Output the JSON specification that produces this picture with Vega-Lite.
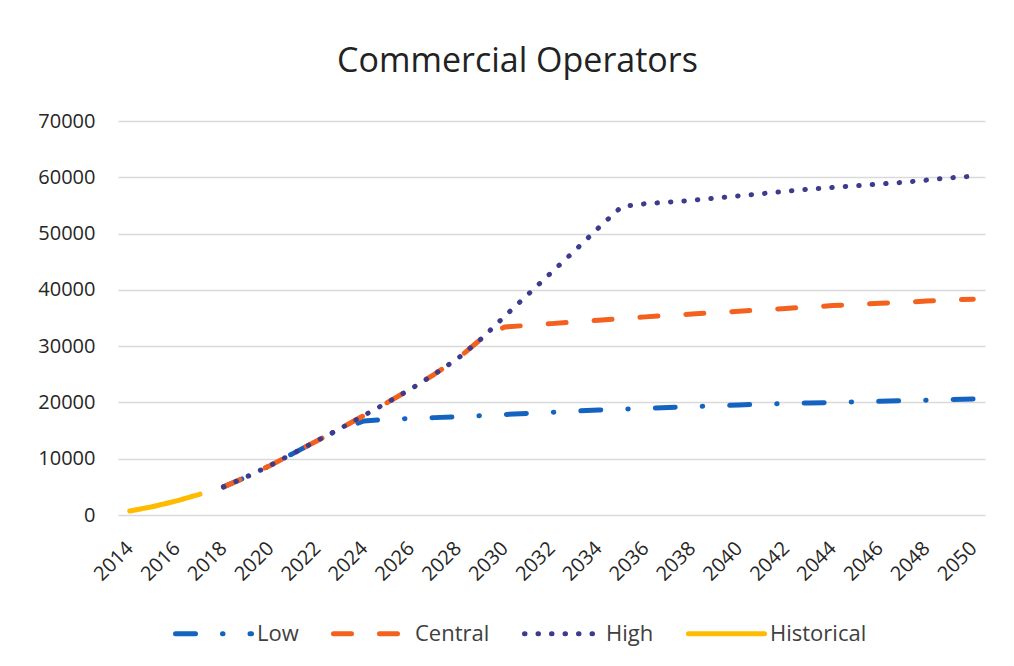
{
  "$schema": "https://vega.github.io/schema/vega-lite/v6.json",
  "width": 867,
  "height": 394,
  "autosize": {"type": "none"},
  "padding": {"left": 118, "top": 121, "right": 29, "bottom": 151},
  "background": "white",
  "config": {
    "font": "Open Sans",
    "view": {"stroke": null}
  },
  "title": {
    "text": "Commercial Operators",
    "fontSize": 34,
    "fontWeight": "normal",
    "color": "#222222",
    "anchor": "middle",
    "dx": -34,
    "baseline": "alphabetic",
    "offset": 5,
    "font": "Open Sans"
  },
  "data": {
    "values": [
      {"year": 2018, "series": "Low", "value": 5000},
      {"year": 2019, "series": "Low", "value": 6800},
      {"year": 2020, "series": "Low", "value": 8800},
      {"year": 2021, "series": "Low", "value": 11000},
      {"year": 2022, "series": "Low", "value": 13200},
      {"year": 2023, "series": "Low", "value": 15300},
      {"year": 2024, "series": "Low", "value": 16700},
      {"year": 2025, "series": "Low", "value": 17000},
      {"year": 2026, "series": "Low", "value": 17150},
      {"year": 2027, "series": "Low", "value": 17300},
      {"year": 2028, "series": "Low", "value": 17450},
      {"year": 2029, "series": "Low", "value": 17650},
      {"year": 2030, "series": "Low", "value": 17850},
      {"year": 2031, "series": "Low", "value": 18050},
      {"year": 2032, "series": "Low", "value": 18250},
      {"year": 2033, "series": "Low", "value": 18450},
      {"year": 2034, "series": "Low", "value": 18650},
      {"year": 2035, "series": "Low", "value": 18800},
      {"year": 2036, "series": "Low", "value": 18950},
      {"year": 2037, "series": "Low", "value": 19100},
      {"year": 2038, "series": "Low", "value": 19250},
      {"year": 2039, "series": "Low", "value": 19400},
      {"year": 2040, "series": "Low", "value": 19550},
      {"year": 2041, "series": "Low", "value": 19700},
      {"year": 2042, "series": "Low", "value": 19800},
      {"year": 2043, "series": "Low", "value": 19900},
      {"year": 2044, "series": "Low", "value": 20000},
      {"year": 2045, "series": "Low", "value": 20100},
      {"year": 2046, "series": "Low", "value": 20200},
      {"year": 2047, "series": "Low", "value": 20300},
      {"year": 2048, "series": "Low", "value": 20400},
      {"year": 2049, "series": "Low", "value": 20500},
      {"year": 2050, "series": "Low", "value": 20600},
      {"year": 2018, "series": "Central", "value": 5000},
      {"year": 2019, "series": "Central", "value": 6800},
      {"year": 2020, "series": "Central", "value": 8800},
      {"year": 2021, "series": "Central", "value": 11000},
      {"year": 2022, "series": "Central", "value": 13200},
      {"year": 2023, "series": "Central", "value": 15400},
      {"year": 2024, "series": "Central", "value": 17700},
      {"year": 2025, "series": "Central", "value": 20000},
      {"year": 2026, "series": "Central", "value": 22400},
      {"year": 2027, "series": "Central", "value": 25000},
      {"year": 2028, "series": "Central", "value": 27800},
      {"year": 2029, "series": "Central", "value": 31300},
      {"year": 2030, "series": "Central", "value": 33400},
      {"year": 2031, "series": "Central", "value": 33700},
      {"year": 2032, "series": "Central", "value": 34000},
      {"year": 2033, "series": "Central", "value": 34300},
      {"year": 2034, "series": "Central", "value": 34600},
      {"year": 2035, "series": "Central", "value": 34900},
      {"year": 2036, "series": "Central", "value": 35200},
      {"year": 2037, "series": "Central", "value": 35450},
      {"year": 2038, "series": "Central", "value": 35700},
      {"year": 2039, "series": "Central", "value": 35950},
      {"year": 2040, "series": "Central", "value": 36200},
      {"year": 2041, "series": "Central", "value": 36450},
      {"year": 2042, "series": "Central", "value": 36700},
      {"year": 2043, "series": "Central", "value": 36950},
      {"year": 2044, "series": "Central", "value": 37200},
      {"year": 2045, "series": "Central", "value": 37400},
      {"year": 2046, "series": "Central", "value": 37600},
      {"year": 2047, "series": "Central", "value": 37800},
      {"year": 2048, "series": "Central", "value": 38000},
      {"year": 2049, "series": "Central", "value": 38200},
      {"year": 2050, "series": "Central", "value": 38350},
      {"year": 2018, "series": "High", "value": 5000},
      {"year": 2019, "series": "High", "value": 6800},
      {"year": 2020, "series": "High", "value": 8800},
      {"year": 2021, "series": "High", "value": 11000},
      {"year": 2022, "series": "High", "value": 13200},
      {"year": 2023, "series": "High", "value": 15400},
      {"year": 2024, "series": "High", "value": 17700},
      {"year": 2025, "series": "High", "value": 20000},
      {"year": 2026, "series": "High", "value": 22400},
      {"year": 2027, "series": "High", "value": 25000},
      {"year": 2028, "series": "High", "value": 27800},
      {"year": 2029, "series": "High", "value": 31300},
      {"year": 2030, "series": "High", "value": 35300},
      {"year": 2031, "series": "High", "value": 39200},
      {"year": 2032, "series": "High", "value": 43100},
      {"year": 2033, "series": "High", "value": 47000},
      {"year": 2034, "series": "High", "value": 51000},
      {"year": 2035, "series": "High", "value": 54800},
      {"year": 2036, "series": "High", "value": 55300},
      {"year": 2037, "series": "High", "value": 55600},
      {"year": 2038, "series": "High", "value": 55900},
      {"year": 2039, "series": "High", "value": 56300},
      {"year": 2040, "series": "High", "value": 56700},
      {"year": 2041, "series": "High", "value": 57100},
      {"year": 2042, "series": "High", "value": 57500},
      {"year": 2043, "series": "High", "value": 57900},
      {"year": 2044, "series": "High", "value": 58200},
      {"year": 2045, "series": "High", "value": 58500},
      {"year": 2046, "series": "High", "value": 58800},
      {"year": 2047, "series": "High", "value": 59100},
      {"year": 2048, "series": "High", "value": 59500},
      {"year": 2049, "series": "High", "value": 59900},
      {"year": 2050, "series": "High", "value": 60200},
      {"year": 2014, "series": "Historical", "value": 700},
      {"year": 2015, "series": "Historical", "value": 1500},
      {"year": 2016, "series": "Historical", "value": 2500},
      {"year": 2017, "series": "Historical", "value": 3700}
    ]
  },
  "mark": {"type": "line", "strokeWidth": 5, "strokeCap": "round", "strokeJoin": "round"},
  "encoding": {
    "x": {
      "field": "year",
      "type": "ordinal",
      "scale": {"domain": [2014,2015,2016,2017,2018,2019,2020,2021,2022,2023,2024,2025,2026,2027,2028,2029,2030,2031,2032,2033,2034,2035,2036,2037,2038,2039,2040,2041,2042,2043,2044,2045,2046,2047,2048,2049,2050], "padding": 0.5},
      "axis": {
        "title": null,
        "values": [2014,2016,2018,2020,2022,2024,2026,2028,2030,2032,2034,2036,2038,2040,2042,2044,2046,2048,2050],
        "labelAngle": -45,
        "labelAlign": "right",
        "labelBaseline": "middle",
        "labelFontSize": 20,
        "labelColor": "#262626",
        "labelPadding": 30,
        "ticks": false,
        "domain": false,
        "grid": false
      }
    },
    "y": {
      "field": "value",
      "type": "quantitative",
      "scale": {"domain": [0, 70000], "nice": false},
      "axis": {
        "title": null,
        "values": [0,10000,20000,30000,40000,50000,60000,70000],
        "format": "d",
        "labelFontSize": 20,
        "labelColor": "#262626",
        "labelPadding": 23,
        "ticks": false,
        "domain": false,
        "grid": true,
        "gridColor": "#d9d9d9",
        "gridWidth": 1.5
      }
    },
    "color": {
      "field": "series",
      "type": "nominal",
      "scale": {
        "domain": ["Low", "Central", "High", "Historical"],
        "range": ["#1563c0", "#f4601e", "#3d3b8e", "#ffbb00"]
      },
      "legend": {
        "title": null,
        "orient": "none",
        "direction": "horizontal",
        "legendX": 55,
        "legendY": 472,
        "symbolType": "stroke",
        "symbolSize": 5776,
        "symbolStrokeWidth": 5,
        "labelFontSize": 22,
        "labelColor": "#404040",
        "labelOffset": 3,
        "columnPadding": 24,
        "encode": {"symbols": {"update": {"strokeCap": {"value": "round"}}}}
      }
    },
    "strokeDash": {
      "field": "series",
      "type": "nominal",
      "scale": {
        "domain": ["Low", "Central", "High", "Historical"],
        "range": [[20, 27, 0.5, 27], [18, 28], [0.5, 13], [1, 0]]
      },
      "legend": {
        "title": null,
        "orient": "none",
        "direction": "horizontal",
        "legendX": 55,
        "legendY": 472,
        "symbolType": "stroke",
        "symbolSize": 5776,
        "symbolStrokeWidth": 5,
        "labelFontSize": 22,
        "labelColor": "#404040",
        "labelOffset": 3,
        "columnPadding": 24,
        "encode": {"symbols": {"update": {"strokeCap": {"value": "round"}}}}
      }
    }
  }
}
